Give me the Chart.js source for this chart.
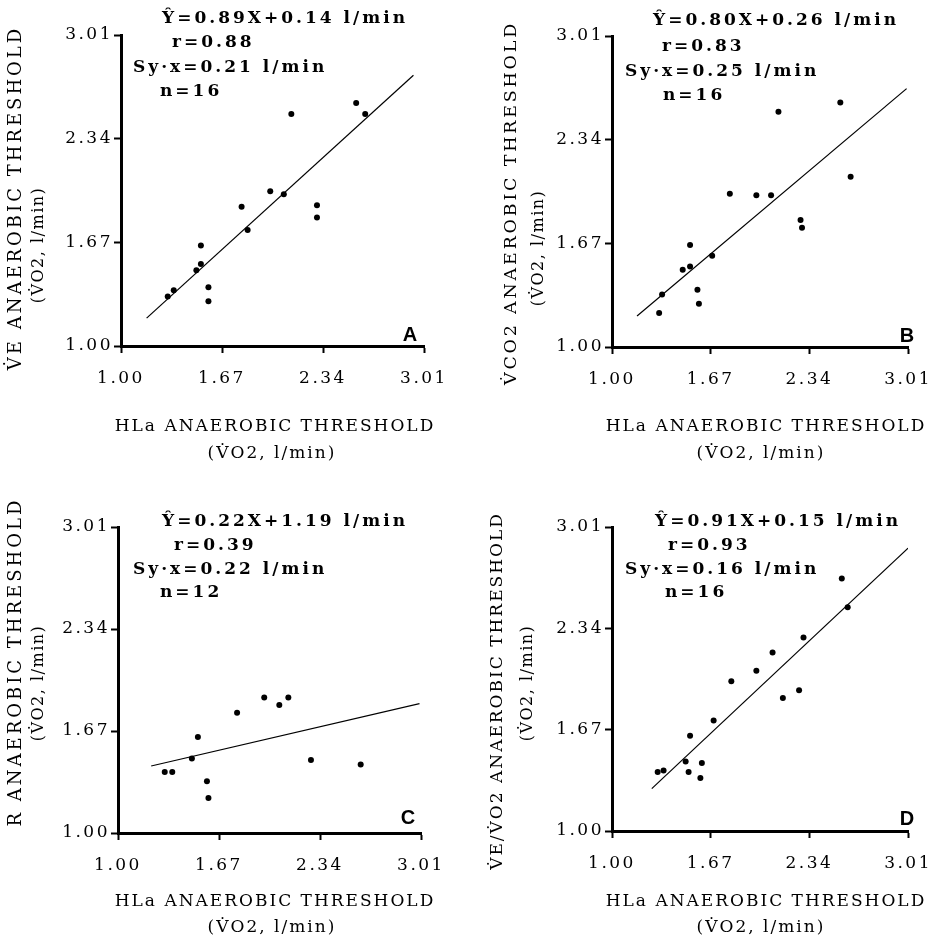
<!DOCTYPE html>
<html lang="en">
<head>
<meta charset="UTF-8">
<title>Anaerobic threshold comparisons</title>
<script src="https://cdn.jsdelivr.net/npm/chart.js"></script>
<style>
  body { margin: 0; background: #fff; }
  #page { position: relative; width: 942px; height: 938px; background: #fff; }
  .panel { position: absolute; width: 471px; height: 469px; }
</style>
</head>
<body>
<div id="page">
  <div class="panel" style="left:0;top:0"><canvas id="chartA" width="471" height="469"></canvas></div>
  <div class="panel" style="left:471px;top:0"><canvas id="chartB" width="471" height="469"></canvas></div>
  <div class="panel" style="left:0;top:469px"><canvas id="chartC" width="471" height="469"></canvas></div>
  <div class="panel" style="left:471px;top:469px"><canvas id="chartD" width="471" height="469"></canvas></div>
</div>
<script>
// shared axis ticks (l/min)
const axisTicks = [1.00, 1.67, 2.34, 3.01];
const xTitle = ["HLa ANAEROBIC THRESHOLD", "(V\u0307O2, l/min)"];

// A: VE threshold vs HLa threshold
const aX = [2.56, 2.62, 2.13, 1.99, 2.08, 1.80, 2.30, 2.30, 1.84, 1.53, 1.53, 1.50, 1.58, 1.58, 1.35, 1.31];
const aY = [2.57, 2.50, 2.50, 2.00, 1.98, 1.90, 1.91, 1.83, 1.75, 1.65, 1.53, 1.49, 1.38, 1.29, 1.36, 1.32];
const aLineX = [1.17, 2.94];
const aLineY = [1.18, 2.75];
const aStats = ["\u0176=0.89X+0.14 l/min", "r=0.88", "Sy\u00b7x=0.21 l/min", "n=16"];
const aYTitle = ["V\u0307E ANAEROBIC THRESHOLD", "(V\u0307O2, l/min)"];

// B: VCO2 threshold vs HLa threshold
const bX = [2.55, 2.13, 2.62, 1.80, 1.98, 2.08, 2.28, 2.29, 1.53, 1.68, 1.53, 1.48, 1.58, 1.59, 1.34, 1.32];
const bY = [2.58, 2.52, 2.10, 1.99, 1.98, 1.98, 1.82, 1.77, 1.66, 1.59, 1.52, 1.50, 1.37, 1.28, 1.34, 1.22];
const bLineX = [1.17, 3.00];
const bLineY = [1.20, 2.67];
const bStats = ["\u0176=0.80X+0.26 l/min", "r=0.83", "Sy\u00b7x=0.25 l/min", "n=16"];
const bYTitle = ["V\u0307CO2 ANAEROBIC THRESHOLD", "(V\u0307O2, l/min)"];

// C: R threshold vs HLa threshold
const cX = [1.97, 2.13, 2.07, 1.79, 1.53, 1.49, 2.28, 2.61, 1.31, 1.36, 1.59, 1.60];
const cY = [1.89, 1.89, 1.84, 1.79, 1.63, 1.49, 1.48, 1.45, 1.40, 1.40, 1.34, 1.23];
const cLineX = [1.22, 3.00];
const cLineY = [1.44, 1.85];
const cStats = ["\u0176=0.22X+1.19 l/min", "r=0.39", "Sy\u00b7x=0.22 l/min", "n=12"];
const cYTitle = ["R ANAEROBIC THRESHOLD", "(V\u0307O2, l/min)"];

// D: VE/VO2 threshold vs HLa threshold
const dX = [2.56, 2.60, 2.30, 2.09, 1.98, 1.81, 2.27, 2.16, 1.69, 1.53, 1.50, 1.61, 1.31, 1.35, 1.52, 1.60];
const dY = [2.67, 2.48, 2.28, 2.18, 2.06, 1.99, 1.93, 1.88, 1.73, 1.63, 1.46, 1.45, 1.39, 1.40, 1.39, 1.35];
const dLineX = [1.27, 3.01];
const dLineY = [1.28, 2.87];
const dStats = ["\u0176=0.91X+0.15 l/min", "r=0.93", "Sy\u00b7x=0.16 l/min", "n=16"];
const dYTitle = ["V\u0307E/V\u0307O2 ANAEROBIC THRESHOLD", "(V\u0307O2, l/min)"];

// text drawn on top of each panel: stats block, rotated y title, x title, panel letter
const panelText = {
  id: "panelText",
  beforeDraw(chart) {
    chart.ctx.letterSpacing = "2.5px";
  },
  afterDraw(chart, args, o) {
    const ctx = chart.ctx;
    ctx.save();
    ctx.fillStyle = "#000";
    ctx.textBaseline = "middle";

    ctx.font = "bold 17px 'DejaVu Serif'";
    ctx.letterSpacing = "3px";
    ctx.textAlign = "left";
    o.stats.forEach((t, i) => ctx.fillText(t, o.statPos[i][0], o.statPos[i][1]));

    ctx.textAlign = "center";
    o.yTitle.forEach((t, i) => {
      ctx.save();
      ctx.font = o.yFonts[i][0] + "px 'DejaVu Serif'";
      ctx.letterSpacing = o.yFonts[i][1] + "px";
      ctx.translate(o.yTitlePos[i][0], o.yTitlePos[i][1]);
      ctx.rotate(-Math.PI / 2);
      ctx.fillText(t, 0, 0);
      ctx.restore();
    });

    ctx.font = "17px 'DejaVu Serif'";
    ctx.letterSpacing = "2px";
    xTitle.forEach((t, i) => ctx.fillText(t, o.xTitlePos[i][0], o.xTitlePos[i][1]));

    ctx.font = "bold 20px 'Liberation Sans'";
    ctx.letterSpacing = "0px";
    ctx.fillText(o.letter, o.letterPos[0], o.letterPos[1]);
    ctx.restore();
  }
};

function makeAxis(fitSize, isX) {
  return {
    type: "linear",
    min: 1.0,
    max: 3.01,
    afterBuildTicks: s => { s.ticks = axisTicks.map(v => ({ value: v })); },
    afterFit: s => { if (isX) s.height = fitSize; else s.width = fitSize; },
    border: { display: true, color: "#000", width: 3 },
    grid: { drawOnChartArea: false, drawTicks: true, tickLength: 7, tickWidth: 2, tickColor: "#000" },
    ticks: {
      color: "#000",
      font: { family: "'DejaVu Serif'", size: 17 },
      padding: isX ? 15 : 1,
      autoSkip: false,
      maxRotation: 0,
      callback: v => v.toFixed(2)
    }
  };
}

function drawPanel(p) {
  const pts = p.xs.map((x, i) => ({ x: x, y: p.ys[i] }));
  const fit = p.lx.map((x, i) => ({ x: x, y: p.ly[i] }));
  new Chart(document.getElementById(p.id), {
    type: "scatter",
    data: {
      datasets: [
        { data: pts, pointRadius: 3, pointBackgroundColor: "#000", pointBorderWidth: 0, showLine: false },
        { data: fit, showLine: true, borderColor: "#000", borderWidth: 1.2, pointRadius: 0 }
      ]
    },
    options: {
      responsive: false,
      animation: false,
      layout: { padding: { top: p.area.top, right: 471 - p.area.right, bottom: 0, left: 0 } },
      plugins: {
        legend: { display: false },
        tooltip: { enabled: false },
        panelText: p.text
      },
      scales: {
        x: makeAxis(469 - p.area.bottom, true),
        y: makeAxis(p.area.left, false)
      }
    },
    plugins: [panelText]
  });
}

drawPanel({
  id: "chartA", xs: aX, ys: aY, lx: aLineX, ly: aLineY,
  area: { left: 121, right: 424, top: 35, bottom: 346 },
  text: {
    stats: aStats, yTitle: aYTitle, letter: "A",
    statPos: [[162, 19], [172, 43], [133, 68], [160, 92]],
    yFonts: [[18, 3], [16, 1.5]],
    yTitlePos: [[16, 198], [39, 245]],
    xTitlePos: [[275, 427], [272, 454]],
    letterPos: [410, 335]
  }
});
drawPanel({
  id: "chartB", xs: bX, ys: bY, lx: bLineX, ly: bLineY,
  area: { left: 141, right: 446, top: 36, bottom: 347 },
  text: {
    stats: bStats, yTitle: bYTitle, letter: "B",
    statPos: [[182, 21], [191, 47], [154, 72], [192, 96]],
    yFonts: [[17.5, 2.8], [16, 1.5]],
    yTitlePos: [[40, 203], [68, 248]],
    xTitlePos: [[295, 427], [290, 454]],
    letterPos: [436, 336]
  }
});
drawPanel({
  id: "chartC", xs: cX, ys: cY, lx: cLineX, ly: cLineY,
  area: { left: 118, right: 421, top: 58, bottom: 364 },
  text: {
    stats: cStats, yTitle: cYTitle, letter: "C",
    statPos: [[162, 53], [174, 77], [133, 101], [160, 124]],
    yFonts: [[18, 3], [16, 1.5]],
    yTitlePos: [[16, 193], [39, 214]],
    xTitlePos: [[275, 433], [272, 459]],
    letterPos: [408, 349]
  }
});
drawPanel({
  id: "chartD", xs: dX, ys: dY, lx: dLineX, ly: dLineY,
  area: { left: 141, right: 446, top: 58, bottom: 362 },
  text: {
    stats: dStats, yTitle: dYTitle, letter: "D",
    statPos: [[184, 53], [197, 77], [154, 101], [194, 124]],
    yFonts: [[17, 2], [16, 1.5]],
    yTitlePos: [[27, 222], [57, 214]],
    xTitlePos: [[295, 433], [290, 459]],
    letterPos: [436, 350]
  }
});
</script>
</body>
</html>
